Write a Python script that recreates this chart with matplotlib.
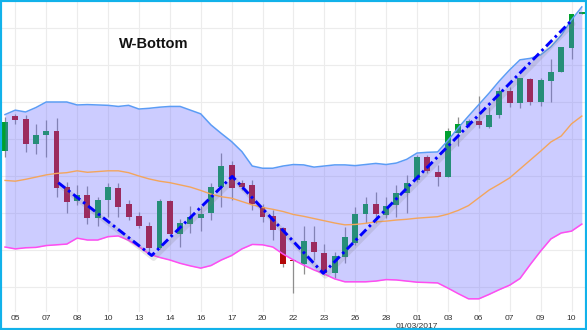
import numpy as np
import matplotlib.pyplot as plt
from matplotlib.patches import Rectangle
import matplotlib.transforms as mtransforms

plt.rcParams['font.family'] = ['Liberation Sans', 'DejaVu Sans']

# daily candles (57 sessions), price units arbitrary (no y labels on the chart)
opens = [136.8, 146.2, 145.4, 138.7, 141.0, 142.1, 126.9, 123.2, 124.9, 118.6,
         123.5, 126.7, 122.4, 119.3, 116.6, 110.5, 123.3, 114.3, 117.0, 118.6,
         119.9, 126.9, 132.9, 128.1, 127.6, 121.5, 119.2, 115.9, 107.2, 106.2,
         112.2, 109.3, 103.9, 108.0, 111.8, 119.7, 122.4, 119.5, 122.2, 125.3,
         128.9, 135.1, 131.2, 129.8, 141.5, 143.8, 144.9, 143.3, 146.5, 153.1,
         149.6, 156.1, 149.9, 155.8, 158.2, 164.7, 173.8]
highs = [146.0, 146.8, 146.5, 144.1, 145.1, 145.6, 128.5, 127.6, 127.3, 124.4,
         128.0, 128.0, 123.5, 120.4, 117.6, 123.7, 123.5, 118.3, 121.9, 121.9,
         128.0, 136.1, 134.1, 128.9, 128.9, 122.4, 120.8, 116.3, 107.5, 116.5,
         116.5, 111.5, 109.5, 116.1, 121.7, 124.4, 125.8, 124.4, 127.6, 130.3,
         135.7, 135.7, 133.0, 142.9, 145.9, 145.4, 151.6, 148.7, 154.0, 154.0,
         156.5, 156.4, 156.4, 161.5, 165.0, 173.8, 174.3]
lows = [135.1, 144.1, 136.5, 135.9, 135.1, 124.2, 119.9, 122.2, 117.0, 116.5,
        118.8, 119.0, 118.1, 115.9, 109.5, 110.3, 114.0, 110.9, 114.5, 115.0,
        118.1, 121.7, 123.5, 126.2, 120.8, 117.6, 112.7, 105.5, 98.3, 103.5,
        107.3, 103.2, 102.4, 106.4, 111.3, 117.2, 117.2, 118.6, 119.0, 119.9,
        128.5, 130.7, 127.3, 129.6, 138.1, 143.2, 142.9, 142.9, 145.6, 148.7,
        148.3, 149.2, 148.9, 150.1, 158.0, 161.5, 173.7]
closes = [144.7, 145.1, 138.7, 141.1, 142.1, 126.8, 122.9, 124.9, 118.6, 123.5,
          127.1, 121.7, 119.0, 116.5, 110.5, 123.3, 114.2, 117.2, 119.0, 119.7,
          126.9, 132.7, 126.7, 127.0, 122.4, 119.0, 115.4, 106.1, 107.0, 112.4,
          109.5, 103.7, 108.4, 113.4, 119.7, 122.4, 119.7, 121.9, 125.3, 128.0,
          135.1, 131.4, 129.6, 142.2, 144.1, 144.9, 143.8, 146.5, 153.1, 149.6,
          156.4, 149.9, 155.9, 158.2, 164.9, 173.7, 174.2]

# bollinger bands
upper = [146.6, 147.8, 147.3, 148.5, 150.0, 150.0, 150.0, 149.2, 149.3, 149.2,
         149.1, 148.8, 149.1, 148.1, 148.3, 148.6, 148.8, 148.8, 147.8, 146.8,
         143.8, 141.5, 139.3, 136.6, 132.7, 132.1, 132.1, 132.7, 133.1, 133.0,
         132.4, 132.7, 133.0, 133.0, 132.8, 133.1, 133.4, 133.1, 133.5, 134.5,
         136.2, 136.4, 136.5, 139.6, 143.0, 146.2, 149.3, 152.4, 155.7, 158.7,
         161.4, 161.8, 162.7, 164.9, 168.0, 172.2, 175.7]
middle = [128.8, 128.6, 129.1, 129.7, 130.3, 130.7, 130.9, 131.4, 131.0, 131.2,
          131.4, 131.4, 130.9, 130.0, 129.2, 128.6, 128.2, 127.6, 127.0, 126.1,
          125.1, 124.4, 124.0, 123.1, 122.2, 121.5, 121.0, 120.4, 119.6, 119.1,
          118.5, 117.9, 117.3, 116.8, 116.9, 117.2, 117.6, 117.8, 118.1, 118.3,
          118.6, 118.8, 119.0, 119.7, 120.7, 122.0, 124.1, 126.2, 127.8, 129.5,
          131.9, 134.3, 136.7, 139.2, 140.8, 144.1, 146.2]
lower = [110.8, 110.3, 110.6, 110.7, 111.2, 111.4, 111.6, 113.2, 112.7, 112.7,
         113.6, 113.8, 112.6, 110.9, 108.9, 108.0, 107.3, 106.4, 105.7, 105.1,
         105.8, 107.3, 108.5, 110.3, 111.5, 111.4, 110.8, 108.9, 107.3, 105.9,
         104.6, 103.5, 102.2, 101.4, 101.4, 101.4, 101.6, 102.0, 101.9, 101.6,
         101.3, 101.2, 101.1, 99.7, 98.2, 96.8, 96.8, 98.0, 99.3, 100.5,
         102.3, 106.1, 109.7, 113.0, 114.6, 115.1, 117.0]

# date labels, one every 3 sessions starting at session 1
tick_labels = ['05', '07', '08', '10', '13', '14', '16', '17', '20', '22',
               '23', '26', '28', '01', '03', '06', '07', '09', '10']
month_label = '01/03/2017'

# W-bottom pattern drawn on top
w_idx = [5.17, 14.24, 22.06, 30.9, 54.95]
w_price = [128.2, 108.5, 129.9, 103.7, 171.9]

n = len(opens)
idx = np.arange(n)
o = np.array(opens); c = np.array(closes)
h = np.array(highs); l = np.array(lows)

fig = plt.figure(figsize=(5.87, 3.30), dpi=100)
ax = fig.add_axes([0, 18 / 330, 1, 312 / 330])

up_col = '#00a030'
dn_col = '#b40808'
cols = [up_col if cc >= oo else dn_col for oo, cc in zip(o, c)]

ax.vlines(idx, l, h, color='#8e8e8e', lw=0.9, zorder=2)
ax.bar(idx, np.maximum(np.abs(c - o), 0.15), bottom=np.minimum(o, c),
       width=0.58, color=cols, lw=0, zorder=2)

# band fill sits over the candles, that's what tints them
ax.fill_between(idx, lower, upper, color=(110 / 255, 110 / 255, 1.0),
                alpha=0.35, lw=0, zorder=3)
ax.plot(idx, upper, color='#5b9cf5', lw=1.1, zorder=4)
ax.plot(idx, lower, color='#ff4df0', lw=1.1, zorder=4)
ax.plot(idx, middle, color='#f3a55c', lw=1.0, zorder=4)

# W line with a soft shadow
shadow = mtransforms.offset_copy(ax.transData, fig=fig, x=2, y=-3, units='dots')
ax.plot(w_idx, w_price, color='#777777', lw=3.5, alpha=0.18, transform=shadow,
        zorder=5, solid_capstyle='round')
ax.plot(w_idx, w_price, color='#0000ff', lw=2.1, zorder=6,
        linestyle=(0, (3, 1.3, 0.9, 1.3)))

ax.set_xlim(-5 / 10.3, 582 / 10.3)
ax.set_ylim(93.24, 177.57)
ax.set_yticks(np.arange(100, 171, 10))
ax.set_xticks(idx[1::3])
ax.set_xticklabels(tick_labels, fontsize=6, color='#333333')
ax.tick_params(axis='x', length=0, pad=2.5)
ax.tick_params(axis='y', length=0, labelleft=False)
ax.grid(True, color='#ececec', lw=0.8)
ax.set_axisbelow(True)
for s in ax.spines.values():
    s.set_visible(False)

ax.text(40, -0.045, month_label, transform=ax.get_xaxis_transform(),
        fontsize=6, color='#333333', ha='center', va='center')

fig.text(154 / 587, 1 - 44.5 / 330, 'W-Bottom', fontsize=10.5,
         fontweight='bold', color='#111111', ha='center', va='center')

fig.patches.append(Rectangle((0, 0), 1, 1, transform=fig.transFigure,
                             fill=False, edgecolor='#12b2ea', lw=3, zorder=10))

fig.savefig('out.png', dpi=100)
